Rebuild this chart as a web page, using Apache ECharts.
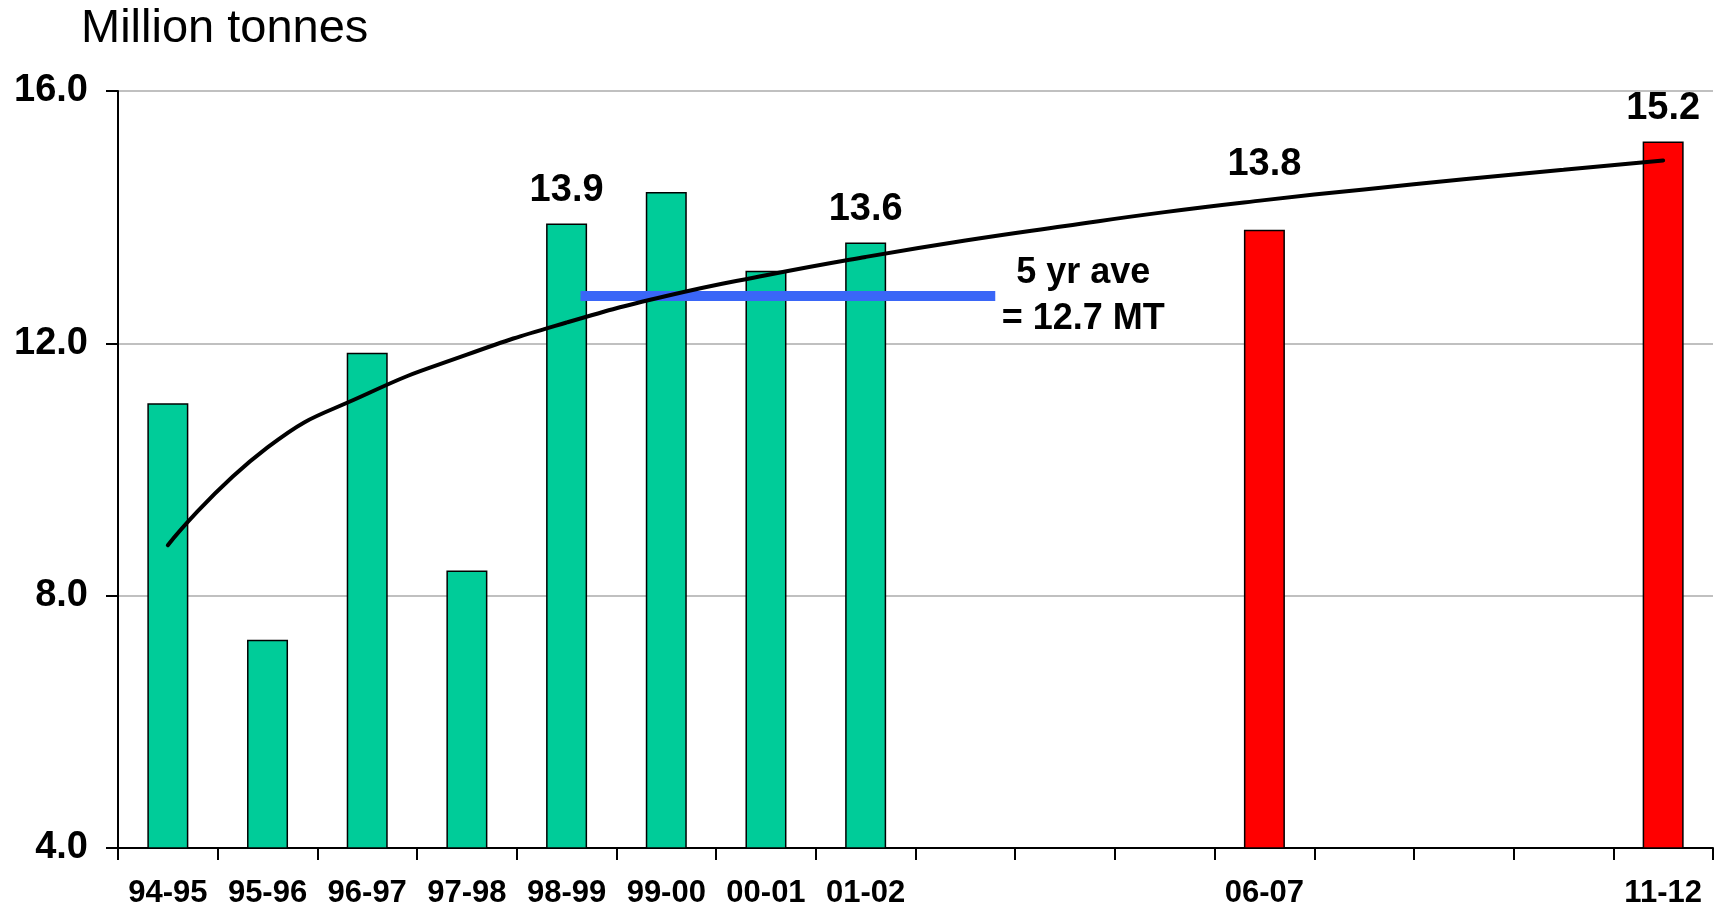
<!DOCTYPE html>
<html>
<head>
<meta charset="utf-8">
<script src="https://cdn.jsdelivr.net/npm/echarts@6/dist/echarts.min.js"></script>
<style>
html, body { margin: 0; padding: 0; background: #fff; }
#main { width: 1720px; height: 906px; }
</style>
</head>
<body>
<div id="main"></div>
<script>
// categories along the bottom (blank slots are spacer positions)
var categories = ['94-95', '95-96', '96-97', '97-98', '98-99', '99-00', '00-01', '01-02', '', '', '', '06-07', '', '', '', '11-12'];
// actual production
var actual = [11.05, 7.3, 11.85, 8.4, 13.9, 14.4, 13.15, 13.6, null, null, null, null, null, null, null, null];
// projections
var projected = [null, null, null, null, null, null, null, null, null, null, null, 13.8, null, null, null, 15.2];
// log trend line, read at each slot
var trend = [8.8, 10.35, 11.2, 11.82, 12.33, 12.75, 13.08, 13.37, 13.63, 13.86, 14.08, 14.27, 14.44, 14.6, 14.75, 14.9];
// 5 year average line: value and span in category units
var avgValue = 12.75;
var avgFrom = 4.64;
var avgTo = 8.8;
// bars that carry a value label
var labelled = [4, 7, 11, 15];
var yMin = 4, yMax = 16, yStep = 4;

var FONT = "'Liberation Sans', Arial, sans-serif";

function barData(values) {
  return values.map(function (v, i) {
    if (v == null) return '-';
    var item = { value: v };
    if (labelled.indexOf(i) >= 0) {
      item.label = { show: true };
      if (i === 11) item.label.offset = [0, -32];
    }
    return item;
  });
}

var chart = echarts.init(document.getElementById('main'), null, { renderer: 'canvas' });

var barLabel = {
  show: false,
  position: 'top',
  distance: 14,
  color: '#000',
  fontFamily: FONT,
  fontWeight: 'bold',
  fontSize: 38,
  formatter: function (p) { return p.value.toFixed(1); }
};

var option = {
  backgroundColor: '#fff',
  animation: false,
  title: {
    text: 'Million tonnes',
    left: 76,
    top: 1,
    textStyle: { fontFamily: FONT, fontWeight: 'normal', fontSize: 47, color: '#000' }
  },
  grid: { left: 118, right: 7, top: 91, bottom: 58, outerBoundsMode: 'none', containLabel: false },
  xAxis: [
    {
      type: 'category',
      data: categories,
      boundaryGap: true,
      axisLine: { lineStyle: { color: '#000', width: 2 } },
      axisTick: { show: true, length: 12, alignWithLabel: false, interval: 0, lineStyle: { color: '#000', width: 2 } },
      axisLabel: { interval: 0, margin: 30, color: '#000', fontFamily: FONT, fontWeight: 'bold', fontSize: 31 },
      splitLine: { show: false }
    },
    { type: 'value', min: 0, max: 16, show: false }
  ],
  yAxis: {
    type: 'value',
    min: yMin,
    max: yMax,
    interval: yStep,
    axisLine: { show: true, lineStyle: { color: '#000', width: 2 } },
    axisTick: { show: true, length: 12, lineStyle: { color: '#000', width: 2 } },
    axisLabel: {
      margin: 30,
      color: '#000',
      fontFamily: FONT,
      fontWeight: 'bold',
      fontSize: 38,
      formatter: function (v) { return v.toFixed(1); }
    },
    splitLine: { lineStyle: { color: '#c0c0c0', width: 2 } }
  },
  series: [
    {
      name: 'Actual',
      type: 'bar',
      data: barData(actual),
      barWidth: 41,
      barGap: '-100%',
      itemStyle: { color: '#00CC99', borderColor: '#000', borderWidth: 1.5 },
      label: barLabel
    },
    {
      name: 'Projected',
      type: 'bar',
      data: barData(projected),
      barWidth: 41,
      barGap: '-100%',
      itemStyle: { color: '#FF0000', borderColor: '#000', borderWidth: 1.5 },
      label: barLabel
    },
    {
      name: '5 yr ave',
      type: 'line',
      xAxisIndex: 1,
      data: [[avgFrom, avgValue], [avgTo, avgValue]],
      symbol: 'none',
      lineStyle: { color: '#3A66F7', width: 10, cap: 'butt' },
      z: 3,
      label: { show: false },
      endLabel: {
        show: true,
        formatter: '5 yr ave\n= 12.7 MT',
        align: 'center',
        offset: [80, 0],
        lineHeight: 46,
        color: '#000',
        fontFamily: FONT,
        fontWeight: 'bold',
        fontSize: 36
      }
    },
    {
      name: 'Trend',
      type: 'line',
      data: trend,
      smooth: 0.5,
      symbol: 'none',
      lineStyle: { color: '#000', width: 4, cap: 'round' },
      z: 4
    }
  ]
};

chart.setOption(option);
</script>
</body>
</html>
